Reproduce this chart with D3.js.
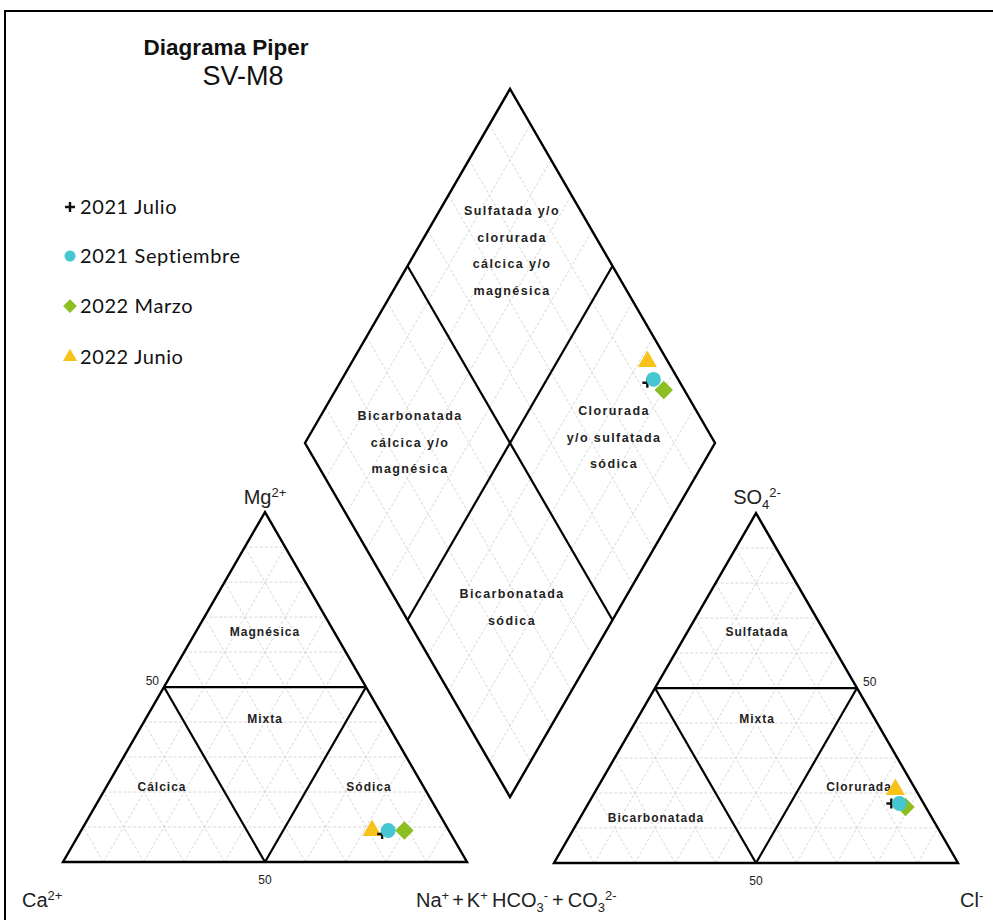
<!DOCTYPE html>
<html>
<head>
<meta charset="utf-8">
<script src="https://cdn.jsdelivr.net/npm/d3@7"></script>
<style>
  body { margin: 0; background: #fff; }
</style>
</head>
<body>
<script>
// samples (meq %)
var samples = ['2021 Julio', '2021 Septiembre', '2022 Marzo', '2022 Junio']
var ca = [17, 15, 11, 19]
var mg = [8, 9, 9, 9]
var nak = [75, 76, 80, 72]
var hco3 = [8, 6, 5, 5]
var so4 = [17, 17, 16, 21]
var cl = [75, 77, 79, 74]
// draw order (back to front)
var drawOrder = [3, 0, 2, 1]

var gridTicks = [10, 20, 30, 40, 60, 70, 80, 90]

var width = 993
var height = 920

var svg = d3.select('body').append('svg')
  .attr('width', width)
  .attr('height', height)
  .attr('font-family', '"Liberation Sans", Arial, sans-serif')

svg.append('rect')
  .attr('x', 5).attr('y', 11)
  .attr('width', 1000).attr('height', 1000)
  .attr('fill', 'none')
  .attr('stroke', '#000')
  .attr('stroke-width', 2)

var colors = ['#111', '#46c6d0', '#8cc022', '#f7c21a']

function markerPath(i, s) {
  if (i === 0) return 'M' + (-s) + ',0H' + s + 'M0,' + (-s) + 'V' + s
  if (i === 1) return d3.symbol(d3.symbolCircle, Math.PI * s * s)()
  if (i === 2) return 'M0,' + (-s * 1.25) + 'L' + (s * 1.25) + ',0L0,' + (s * 1.25) + 'L' + (-s * 1.25) + ',0Z'
  return d3.symbol(d3.symbolTriangle, s * s * 2.9)()
}

function drawMarker(g, i, x, y, s) {
  var p = g.append('path')
    .attr('transform', 'translate(' + x + ',' + y + ')')
    .attr('d', markerPath(i, s))
  if (i === 0) {
    p.attr('fill', 'none').attr('stroke', colors[0]).attr('stroke-width', 2.4)
  } else {
    p.attr('fill', colors[i])
  }
}

var gridStyle = sel => sel
  .attr('stroke', '#d2d2d2')
  .attr('stroke-width', 0.9)
  .attr('stroke-dasharray', '3,2')
  .attr('fill', 'none')

var labelStyle = (sel, size, spacing) => sel
  .attr('text-anchor', 'middle')
  .attr('font-size', size).attr('font-weight', 'bold')
  .attr('letter-spacing', spacing)
  .attr('fill', '#222')

var line = d3.line()

// ---------- ternary triangles ----------
function ternary(x0, base, W, opts) {
  var H = W * Math.sqrt(3) / 2
  var sx = d3.scaleLinear().domain([0, 100]).range([x0, x0 + W])
  var sy = d3.scaleLinear().domain([0, 100]).range([base, base - H])
  // right = right corner component, top = apex component
  var pt = (right, top) => [sx(right + top / 2), sy(top)]
  var g = svg.append('g')

  var grid = []
  gridTicks.forEach(t => {
    grid.push([pt(0, t), pt(100 - t, t)])
    grid.push([pt(t, 0), pt(t, 100 - t)])
    grid.push([pt(100 - t, 0), pt(0, 100 - t)])
  })
  g.selectAll('path.grid').data(grid).enter().append('path')
    .attr('class', 'grid')
    .attr('d', d => line(d))
    .call(gridStyle)

  var regions = [
    [pt(0, 50), pt(50, 50)],
    [pt(0, 50), pt(50, 0)],
    [pt(50, 50), pt(50, 0)]
  ]
  g.selectAll('path.reg').data(regions).enter().append('path')
    .attr('d', d => line(d))
    .attr('stroke', '#000').attr('stroke-width', 2.2).attr('fill', 'none')

  g.append('path')
    .attr('d', line([pt(0, 0), pt(100, 0), pt(0, 100)]) + 'Z')
    .attr('stroke', '#000').attr('stroke-width', 2.4).attr('fill', 'none')

  opts.labels.forEach(l => {
    g.append('text')
      .attr('x', l[1]).attr('y', l[2])
      .call(labelStyle, 12, 1)
      .text(l[0])
  })

  // 50 ticks
  g.append('text')
    .attr('x', pt(50, 0)[0]).attr('y', base + 22)
    .attr('text-anchor', 'middle').attr('font-size', 12).attr('fill', '#222')
    .text('50')
  var left = opts.fiftySide === 'left'
  var side = left ? pt(0, 50) : pt(50, 50)
  g.append('text')
    .attr('x', side[0] + (left ? -5 : 6)).attr('y', side[1] - 2)
    .attr('text-anchor', left ? 'end' : 'start')
    .attr('font-size', 12).attr('fill', '#222')
    .text('50')

  return { pt: pt, g: g, H: H }
}

var cat = ternary(63, 862, 404, {
  fiftySide: 'left',
  labels: [['Magnésica', 265, 636], ['Mixta', 265, 723], ['Cálcica', 162, 791], ['Sódica', 369, 791]]
})
var an = ternary(554, 863, 404, {
  fiftySide: 'right',
  labels: [['Sulfatada', 757, 636], ['Mixta', 757, 723], ['Bicarbonatada', 656, 822], ['Clorurada', 859, 791]]
})

// ---------- diamond ----------
var dTop = 89, dHw = 205, dHh = 354, dCx = 510
var dx = d3.scaleLinear().domain([0, 200]).range([dCx - dHw, dCx + dHw])
var dy = d3.scaleLinear().domain([-100, 100]).range([dTop, dTop + 2 * dHh])
// p = Na+K, q = Cl+SO4
var dpt = (p, q) => [dx(p + q), dy(p - q)]
var dg = svg.append('g')

var dgrid = []
gridTicks.forEach(t => {
  dgrid.push([dpt(t, 0), dpt(t, 100)])
  dgrid.push([dpt(0, t), dpt(100, t)])
})
dg.selectAll('path.grid').data(dgrid).enter().append('path')
  .attr('class', 'grid')
  .attr('d', d => line(d))
  .call(gridStyle)

dg.selectAll('path.reg').data([[dpt(50, 0), dpt(50, 100)], [dpt(0, 50), dpt(100, 50)]])
  .enter().append('path')
  .attr('d', d => line(d))
  .attr('stroke', '#000').attr('stroke-width', 2.2).attr('fill', 'none')

dg.append('path')
  .attr('d', line([dpt(0, 0), dpt(0, 100), dpt(100, 100), dpt(100, 0)]) + 'Z')
  .attr('stroke', '#000').attr('stroke-width', 2.4).attr('fill', 'none')

var diamondLabels = [
  [['Sulfatada y/o', 'clorurada', 'cálcica y/o', 'magnésica'], 512, 215],
  [['Bicarbonatada', 'cálcica y/o', 'magnésica'], 410, 420],
  [['Clorurada', 'y/o sulfatada', 'sódica'], 614, 415],
  [['Bicarbonatada', 'sódica'], 512, 598]
]
diamondLabels.forEach(l => {
  l[0].forEach((s, k) => {
    dg.append('text')
      .attr('x', l[1]).attr('y', l[2] + k * 26.5)
      .call(labelStyle, 12.5, 1.4)
      .text(s)
  })
})

// ---------- points ----------
var pg = svg.append('g')
drawOrder.forEach(i => {
  var c = cat.pt(nak[i], mg[i])
  var a = an.pt(cl[i], so4[i])
  var d = dpt(nak[i], cl[i] + so4[i])
  ;[c, a, d].forEach(p => drawMarker(pg, i, p[0], p[1], i === 0 ? 5 : 7.4))
})

// ---------- axis labels ----------
function richLabel(x, y, anchor, parts) {
  var t = svg.append('text')
    .attr('x', x).attr('y', y)
    .attr('text-anchor', anchor)
    .attr('font-size', 20)
    .attr('fill', '#222')
  var shift = 0
  parts.forEach(p => {
    var target = p[1] === 'sup' ? -7 : p[1] === 'sub' ? 5 : 0
    t.append('tspan')
      .attr('dx', p[2] || 0)
      .attr('dy', target - shift)
      .attr('font-size', p[1] ? 13 : 20)
      .text(p[0])
    shift = target
  })
}
richLabel(265, 504, 'middle', [['Mg'], ['2+', 'sup']])
richLabel(757, 504, 'middle', [['SO'], ['4', 'sub'], ['2-', 'sup']])
richLabel(22, 907, 'start', [['Ca'], ['2+', 'sup']])
richLabel(416, 907, 'start', [['Na'], ['+', 'sup'], ['+', '', 3], ['K', '', 3], ['+', 'sup']])
richLabel(492, 907, 'start', [['HCO'], ['3', 'sub'], ['-', 'sup'], ['+', '', 4], ['CO', '', 4], ['3', 'sub'], ['2-', 'sup']])
richLabel(960, 907, 'start', [['Cl'], ['-', 'sup']])

// ---------- title ----------
svg.append('text')
  .attr('x', 226).attr('y', 55)
  .attr('text-anchor', 'middle')
  .attr('font-size', 22.5).attr('font-weight', 'bold')
  .attr('fill', '#111')
  .text('Diagrama Piper')
svg.append('text')
  .attr('x', 243).attr('y', 85)
  .attr('text-anchor', 'middle')
  .attr('font-size', 27)
  .attr('fill', '#111')
  .text('SV-M8')

// ---------- legend ----------
var lg = svg.append('g')
var legendY = [207, 256, 306, 357]
samples.forEach((s, i) => {
  drawMarker(lg, i, 70, legendY[i], i === 0 ? 5 : 5.5)
  lg.append('text')
    .attr('x', 80).attr('y', legendY[i] + 7)
    .attr('font-family', 'Lato, "Open Sans", sans-serif')
    .attr('font-size', 20)
    .attr('letter-spacing', 0.6)
    .attr('fill', '#111')
    .text(s)
})
</script>
</body>
</html>
